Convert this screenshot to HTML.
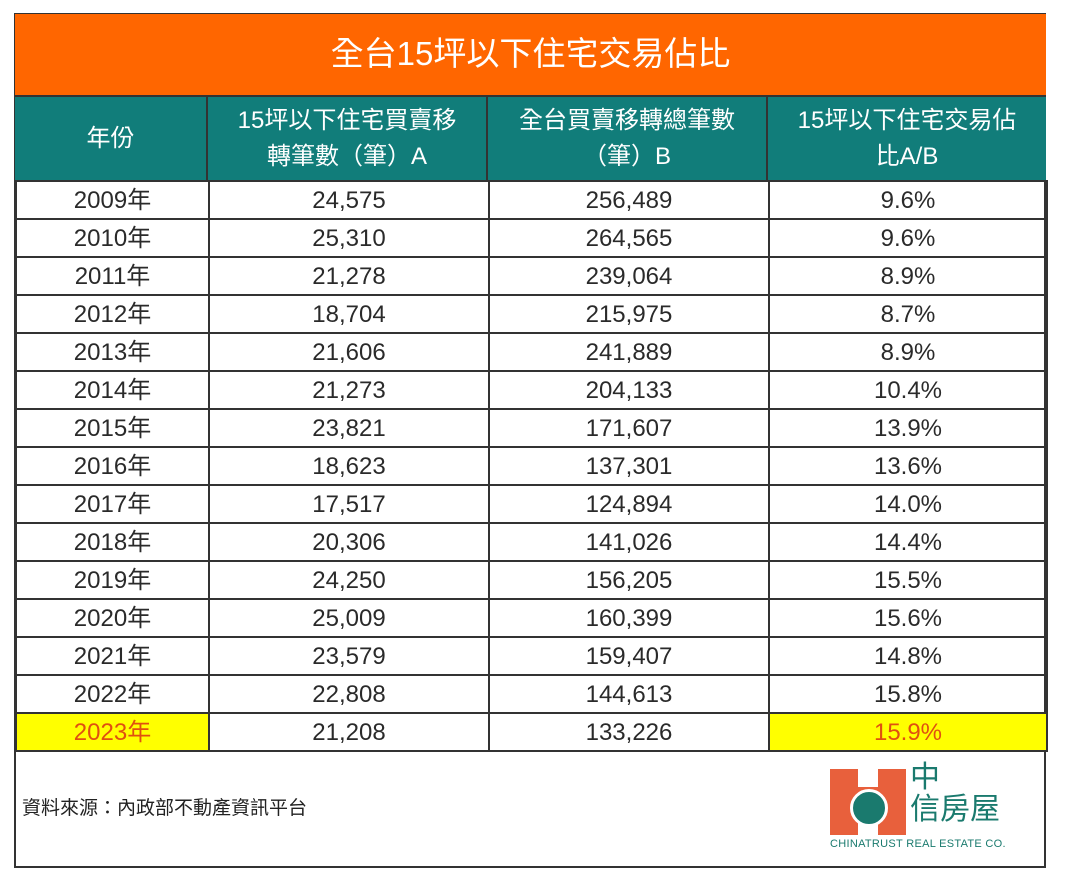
<!DOCTYPE html>
<html><head><meta charset="utf-8"><style>
body{margin:0;width:1078px;height:880px;background:#fff;font-family:"Liberation Sans","Noto Sans CJK TC",sans-serif;position:relative;overflow:hidden}
.box{position:absolute;left:14px;top:13px;width:1032px;height:855px;border:2px solid #333;box-sizing:border-box}
.title{position:absolute;left:15px;top:14px;width:1031px;height:83px;background:#ff6600;color:#fff;font-size:33px;text-align:center;line-height:80px;border-bottom:2px solid #333;box-sizing:border-box}
.hd{position:absolute;top:97px;height:83px;background:#117d7a;color:#fff;font-size:24px;text-align:center;display:flex;align-items:center;justify-content:center;line-height:36px;border-right:2px solid #333;box-sizing:border-box}
table{position:absolute;left:15px;top:180px;border-collapse:collapse;width:1031px;table-layout:fixed}
td{height:38px;box-sizing:border-box;border:2px solid #333;text-align:center;font-size:24px;color:#2a2a2a;padding:0;padding-top:2px;line-height:30px;vertical-align:middle;overflow:hidden}
tr.hl td:first-child,tr.hl td:last-child{background:#ffff00;color:#e05010}
.foot{position:absolute;left:22px;top:793px;font-size:19px;color:#222}
</style></head><body>
<div class="box"></div>
<div class="title">全台15坪以下住宅交易佔比</div>
<div class="hd" style="left:15px;width:193px">年份</div>
<div class="hd" style="left:208px;width:280px">15坪以下住宅買賣移<br>轉筆數（筆）A</div>
<div class="hd" style="left:488px;width:280px">全台買賣移轉總筆數<br>（筆）B</div>
<div class="hd" style="left:768px;width:278px;border-right:none">15坪以下住宅交易佔<br>比A/B</div>
<table>
<colgroup><col style="width:193px"><col style="width:280px"><col style="width:280px"><col style="width:278px"></colgroup>
<tr><td>2009年</td><td>24,575</td><td>256,489</td><td>9.6%</td></tr>
<tr><td>2010年</td><td>25,310</td><td>264,565</td><td>9.6%</td></tr>
<tr><td>2011年</td><td>21,278</td><td>239,064</td><td>8.9%</td></tr>
<tr><td>2012年</td><td>18,704</td><td>215,975</td><td>8.7%</td></tr>
<tr><td>2013年</td><td>21,606</td><td>241,889</td><td>8.9%</td></tr>
<tr><td>2014年</td><td>21,273</td><td>204,133</td><td>10.4%</td></tr>
<tr><td>2015年</td><td>23,821</td><td>171,607</td><td>13.9%</td></tr>
<tr><td>2016年</td><td>18,623</td><td>137,301</td><td>13.6%</td></tr>
<tr><td>2017年</td><td>17,517</td><td>124,894</td><td>14.0%</td></tr>
<tr><td>2018年</td><td>20,306</td><td>141,026</td><td>14.4%</td></tr>
<tr><td>2019年</td><td>24,250</td><td>156,205</td><td>15.5%</td></tr>
<tr><td>2020年</td><td>25,009</td><td>160,399</td><td>15.6%</td></tr>
<tr><td>2021年</td><td>23,579</td><td>159,407</td><td>14.8%</td></tr>
<tr><td>2022年</td><td>22,808</td><td>144,613</td><td>15.8%</td></tr>
<tr class="hl"><td>2023年</td><td>21,208</td><td>133,226</td><td>15.9%</td></tr>
</table>
<div class="foot">資料來源：內政部不動產資訊平台</div>
<div style="position:absolute;left:830px;top:769px;width:76px;height:66px;background:#e8603c"></div>
<div style="position:absolute;left:858px;top:769px;width:20px;height:18px;background:#fff"></div>
<div style="position:absolute;left:858px;top:817px;width:20px;height:18px;background:#fff"></div>
<div style="position:absolute;left:850px;top:789px;width:32px;height:32px;border-radius:50%;background:#1a7a6e;border:3px solid #fff"></div>
<div style="position:absolute;left:910px;top:762px;font-size:30px;color:#1a7a6e;line-height:32px">中<br>信房屋</div>
<div style="position:absolute;left:830px;top:838px;font-size:11px;color:#1a7a6e;letter-spacing:0.3px">CHINATRUST REAL ESTATE CO.</div>
</body></html>
